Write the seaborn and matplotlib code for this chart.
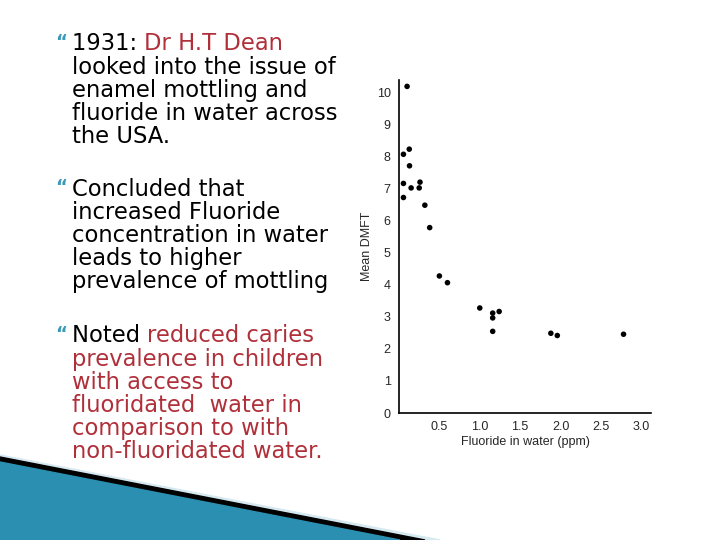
import matplotlib
matplotlib.use("Agg")
import matplotlib.pyplot as plt
from matplotlib.patches import Polygon
import seaborn as sns
import pandas as pd

fluoride_ppm = [0.10, 0.055, 0.127, 0.13, 0.055, 0.15, 0.055, 0.26, 0.25, 0.32, 0.38,
                0.50, 0.60, 1.00, 1.16, 1.16, 1.24, 1.16, 1.88, 1.96, 2.78]
mean_dmft = [10.2, 8.08, 8.24, 7.72, 7.17, 7.03, 6.73, 7.21, 7.03, 6.49, 5.79,
             4.28, 4.07, 3.28, 3.12, 2.97, 3.17, 2.55, 2.49, 2.42, 2.46]
x_ticks = [0.5, 1.0, 1.5, 2.0, 2.5, 3.0]
y_ticks = list(range(0, 11))

bullets = [
    [[("1931: ", "black"), ("Dr H.T Dean", "#b0303a")],
     [("looked into the issue of", "black")],
     [("enamel mottling and", "black")],
     [("fluoride in water across", "black")],
     [("the USA.", "black")]],
    [[("Concluded that", "black")],
     [("increased Fluoride", "black")],
     [("concentration in water", "black")],
     [("leads to higher", "black")],
     [("prevalence of mottling", "black")]],
    [[("Noted ", "black"), ("reduced caries", "#b0303a")],
     [("prevalence in children", "#b0303a")],
     [("with access to", "#b0303a")],
     [("fluoridated  water in", "#b0303a")],
     [("comparison to with", "#b0303a")],
     [("non-fluoridated water.", "#b0303a")]],
]
bullet_tops = [44, 189, 336]

sns.set_style("white")
plt.rcParams['font.family'] = ['DejaVu Sans']
fig = plt.figure(figsize=(7.2, 5.4), dpi=100)
W, H = 720, 540

# decorative swoosh bottom-left
fig.patches.append(Polygon([(0, 1 - 455 / H), (440 / W, 0), (0, 0)], closed=True,
                           transform=fig.transFigure, color="#d6e9f0", zorder=0))
fig.patches.append(Polygon([(0, 1 - 457 / H), (425 / W, 0), (0, 0)], closed=True,
                           transform=fig.transFigure, color="black", zorder=0))
fig.patches.append(Polygon([(0, 1 - 462 / H), (400 / W, 0), (0, 0)], closed=True,
                           transform=fig.transFigure, color="#2b8fb2", zorder=0))

# bullet text
renderer = fig.canvas.get_renderer()
for top, lines in zip(bullet_tops, bullets):
    fig.text(55 / W, 1 - (top - 2) / H, "\u201c", color="#3a9ab8", fontsize=13,
             fontweight="bold", va="center", ha="left")
    for i, parts in enumerate(lines):
        y = 1 - (top + i * 23.2) / H
        x = 72
        for txt, col in parts:
            t = fig.text(x / W, y, txt, color=col, fontsize=16.3, va="center", ha="left")
            x += t.get_window_extent(renderer).width

# scatter chart
df = pd.DataFrame({"Fluoride": fluoride_ppm, "DMFT": mean_dmft})
ax = fig.add_axes([399 / W, 1 - 413 / H, 252 / W, 333 / H])
sns.scatterplot(data=df, x="Fluoride", y="DMFT", ax=ax, color="black", s=16,
                edgecolor="none")
ax.set_xlim(0, 3.12)
ax.set_ylim(0, 10.4)
ax.set_xticks(x_ticks)
ax.set_xticklabels([f"{v:.1f}" for v in x_ticks], fontsize=9, family="Liberation Sans")
ax.set_yticks(y_ticks)
ax.set_yticklabels([str(v) for v in y_ticks], fontsize=9, family="Liberation Sans")
ax.tick_params(direction="out", length=4, width=1, color="black", pad=2)
ax.set_xlabel("Fluoride in water (ppm)", fontsize=9, family="Liberation Sans", labelpad=2)
ax.set_ylabel("Mean DMFT", fontsize=9, family="Liberation Sans", labelpad=3)
for s in ["top", "right"]:
    ax.spines[s].set_visible(False)
for s in ["left", "bottom"]:
    ax.spines[s].set_color("black")
    ax.spines[s].set_linewidth(1.2)
ax.set_facecolor("none")

fig.savefig("out.png", dpi=100)
